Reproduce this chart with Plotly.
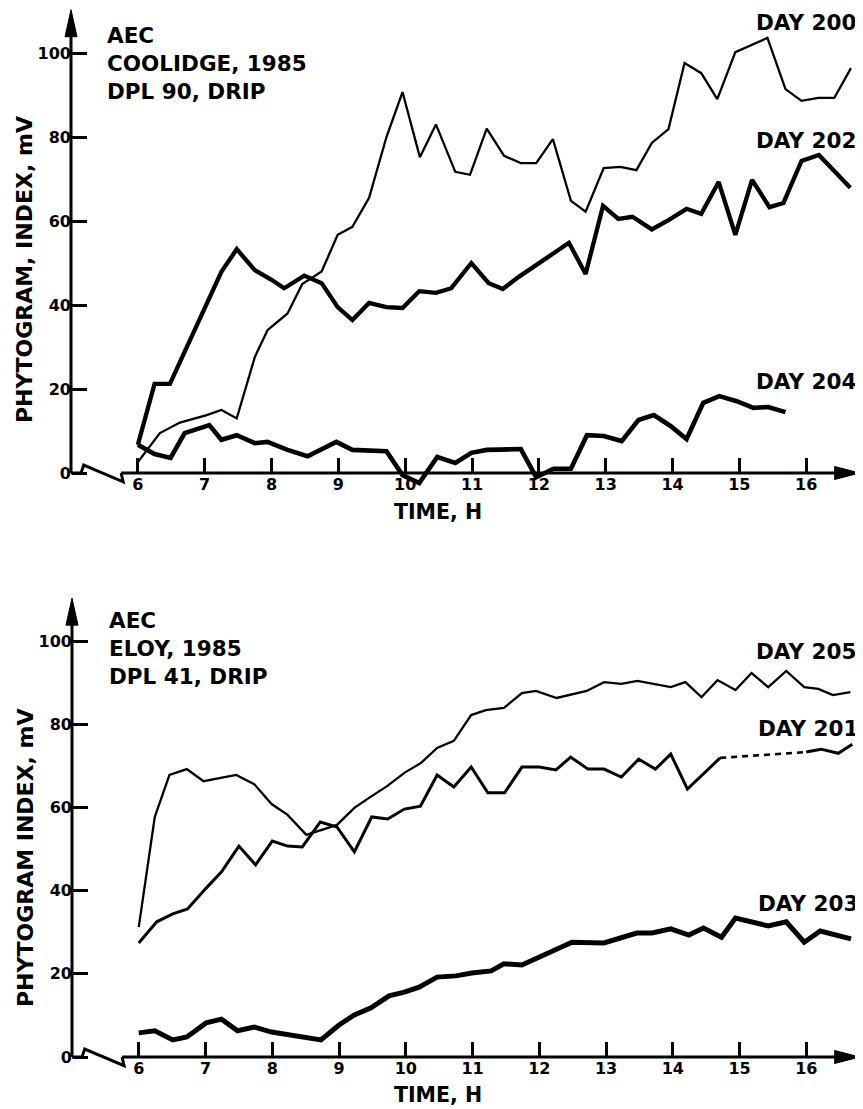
import plotly.graph_objects as go

# ---------------- data ----------------
hour_ticks = [6, 7, 8, 9, 10, 11, 12, 13, 14, 15, 16]
index_ticks = [0, 20, 40, 60, 80, 100]

# Top panel: AEC Coolidge 1985, DPL 90, drip
d200_t = [6.0, 6.33, 6.63, 7.03, 7.25, 7.48, 7.75, 7.94, 8.24, 8.46, 8.75, 8.99, 9.21, 9.46, 9.72,
          9.96, 10.22, 10.46, 10.75, 10.97, 11.22, 11.48, 11.73, 11.96, 12.21, 12.48, 12.70, 12.97,
          13.22, 13.46, 13.69, 13.94, 14.18, 14.43, 14.67, 14.94, 15.42, 15.69, 15.93, 16.18, 16.42, 16.67]
d200_v = [2.6, 9.5, 12.0, 13.8, 15.0, 13.0, 27.6, 34.0, 38.0, 45.0, 48.0, 56.7, 58.6, 65.5, 80.0,
          90.7, 75.2, 83.0, 71.7, 71.0, 82.0, 75.5, 73.8, 73.8, 79.5, 64.8, 62.2, 72.6,
          72.9, 72.1, 78.6, 81.9, 97.6, 95.2, 89.0, 100.2, 103.6, 91.4, 88.6, 89.3, 89.3, 96.4]

d202_t = [6.0, 6.25, 6.48, 7.25, 7.48, 7.75, 8.0, 8.19, 8.49, 8.75, 8.99, 9.21, 9.46, 9.72, 9.96,
          10.21, 10.46, 10.69, 10.99, 11.25, 11.46, 11.70, 12.45, 12.70, 12.96, 13.19, 13.40, 13.69,
          13.94, 14.21, 14.43, 14.69, 14.94, 15.19, 15.45, 15.66, 15.93, 16.19, 16.66]
d202_v = [6.7, 21.2, 21.2, 47.9, 53.3, 48.3, 46.0, 44.0, 47.0, 45.2, 39.5, 36.4, 40.5, 39.5, 39.3,
          43.3, 42.9, 44.0, 50.0, 45.2, 43.8, 46.7, 54.8, 47.4, 63.6, 60.5, 61.0, 58.0,
          60.2, 62.9, 61.7, 69.3, 56.7, 69.8, 63.3, 64.3, 74.3, 75.7, 67.9]

d204_t = [6.0, 6.25, 6.49, 6.70, 7.07, 7.25, 7.48, 7.75, 7.94, 8.24, 8.54, 8.97, 9.21, 9.72, 9.96,
          10.21, 10.48, 10.75, 10.99, 11.22, 11.73, 11.96, 12.22, 12.48, 12.72, 12.97, 13.24, 13.49,
          13.72, 13.97, 14.21, 14.46, 14.70, 14.96, 15.21, 15.43, 15.69]
d204_v = [6.7, 4.5, 3.6, 9.5, 11.4, 7.9, 9.0, 7.1, 7.4, 5.5, 4.0, 7.4, 5.5, 5.2, -0.5,
          -2.4, 3.8, 2.4, 4.8, 5.5, 5.7, -1.0, 1.0, 1.0, 9.0, 8.8, 7.6, 12.6,
          13.8, 11.2, 8.1, 16.7, 18.3, 17.1, 15.5, 15.7, 14.5]

# Bottom panel: AEC Eloy 1985, DPL 41, drip
d205_t = [6.0, 6.24, 6.46, 6.72, 6.97, 7.46, 7.73, 7.99, 8.23, 8.51, 8.97, 9.23, 9.45, 9.72, 9.98,
          10.23, 10.47, 10.72, 10.98, 11.20, 11.47, 11.74, 11.95, 12.26, 12.71, 12.97, 13.23, 13.47,
          13.97, 14.19, 14.43, 14.67, 14.94, 15.18, 15.43, 15.70, 15.97, 16.18, 16.40, 16.66]
d205_v = [31.2, 57.7, 67.8, 69.2, 66.3, 67.8, 65.6, 60.8, 58.2, 53.4, 55.8, 59.9, 62.3, 65.1, 68.3,
          70.7, 74.3, 76.0, 82.2, 83.4, 83.9, 87.5, 88.0, 86.3, 88.0, 90.1, 89.7, 90.4,
          88.9, 90.1, 86.5, 90.6, 88.2, 92.3, 88.9, 92.8, 88.9, 88.5, 87.0, 87.7]

d201_t = [6.0, 6.27, 6.51, 6.73, 7.01, 7.24, 7.50, 7.75, 8.0, 8.23, 8.45, 8.72, 8.97, 9.23, 9.49,
          9.73, 9.98, 10.22, 10.47, 10.72, 10.98, 11.23, 11.48, 11.74, 12.0, 12.25, 12.47, 12.73,
          12.97, 13.23, 13.49, 13.74, 13.97, 14.22, 14.71, 16.0, 16.22, 16.48, 16.69]
d201_v = [27.4, 32.5, 34.4, 35.6, 40.6, 44.5, 50.7, 46.2, 51.9, 50.7, 50.5, 56.5, 55.3, 49.3, 57.7,
          57.2, 59.6, 60.3, 67.8, 64.9, 69.7, 63.5, 63.5, 69.7, 69.7, 69.0, 72.1, 69.2,
          69.2, 67.3, 71.6, 69.2, 72.8, 64.4, 71.9, 73.3, 74.0, 73.0, 75.2]
d201_missing_from = 14.71   # dashed (no data) between these hours
d201_missing_to = 16.0

d203_t = [6.0, 6.24, 6.51, 6.72, 7.01, 7.24, 7.48, 7.73, 7.99, 8.73, 9.0, 9.23, 9.48, 9.75, 9.98,
          10.20, 10.47, 10.75, 10.99, 11.28, 11.47, 11.74, 12.49, 12.97, 13.46, 13.69, 13.97, 14.24,
          14.46, 14.73, 14.94, 15.43, 15.70, 15.97, 16.21, 16.67]
d203_v = [5.8, 6.3, 4.1, 4.8, 8.2, 9.1, 6.3, 7.2, 6.0, 4.1, 7.7, 10.1, 11.8, 14.7, 15.6,
          16.8, 19.2, 19.5, 20.2, 20.7, 22.4, 22.1, 27.6, 27.4, 29.8, 29.8, 30.8, 29.3,
          31.0, 28.8, 33.4, 31.5, 32.5, 27.6, 30.3, 28.4]

# ---------------- layout helpers ----------------
OFF = 8                      # page body margin of the browser
W, H = 863 - OFF, 1109 - OFF
FONT = "DejaVu Sans"
WEIGHT = "bold"


def px(x):
    """screen pixel x -> paper fraction"""
    return (x - OFF) / W


def py(y):
    """screen pixel y -> paper fraction"""
    return 1 - (y - OFF) / H


def clamp(v):
    return max(0.0, min(1.0, v))


fig = go.Figure()


def line(x, y, width, xa, ya, dash="solid"):
    fig.add_trace(go.Scatter(x=x, y=y, mode="lines", xaxis=xa, yaxis=ya,
                             line=dict(color="black", width=width, dash=dash),
                             showlegend=False, hoverinfo="skip"))


# top panel
line(d200_t, d200_v, 2.3, "x", "y")
line(d202_t, d202_v, 4.3, "x", "y")
line(d204_t, d204_v, 4.6, "x", "y")

# bottom panel
line(d205_t, d205_v, 2.3, "x2", "y2")
i0 = d201_t.index(d201_missing_from)
i1 = d201_t.index(d201_missing_to)
line(d201_t[:i0 + 1], d201_v[:i0 + 1], 3.0, "x2", "y2")
line(d201_t[i0:i1 + 1], d201_v[i0:i1 + 1], 2.6, "x2", "y2", dash="6px,5px")
line(d201_t[i1:], d201_v[i1:], 3.0, "x2", "y2")
line(d203_t, d203_v, 5.0, "x2", "y2")

X_AXIS_AT = 5.0          # hour value where the vertical axis stands
XR = [4.85, 16.85]
YR = [-5, 110.6]
X_TIP, Y_TIP = 16.8, 110.3
RIGHT_PX = 863

tick_font = dict(family=FONT, size=16, color="black", weight=WEIGHT)

shapes = []
annos = []


def panel(xname, yname, axis_px, zero_py, ppy):
    ppx = (RIGHT_PX - axis_px) / (XR[1] - X_AXIS_AT)
    left_px = axis_px - (X_AXIS_AT - XR[0]) * ppx
    xa = dict(domain=[clamp(px(left_px)), 1.0], range=XR, anchor="free", position=py(zero_py),
              tickmode="array", tickvals=hour_ticks, ticktext=[str(v) for v in hour_ticks],
              ticks="inside", ticklen=15, tickwidth=2.5, tickcolor="black",
              showline=False, showgrid=False, zeroline=False, tickfont=tick_font,
              fixedrange=True)
    bottom = zero_py - YR[0] * ppy
    top = zero_py - YR[1] * ppy
    ya = dict(domain=[clamp(py(bottom)), clamp(py(top))], range=YR, anchor="free",
              position=px(axis_px),
              tickmode="array", tickvals=index_ticks, ticktext=[str(v) for v in index_ticks],
              ticks="inside", ticklen=15, tickwidth=2.5, tickcolor="black",
              showline=False, showgrid=False, zeroline=False, tickfont=tick_font,
              fixedrange=True)
    xr = xname.replace("axis", "")
    yr = yname.replace("axis", "")
    blk = dict(color="black", width=3)
    # broken start of the time axis
    shapes.append(dict(type="path", xref=xr, yref=yr,
                       path=f"M {X_AXIS_AT},0 L 5.15,0 L 5.19,1.9 L 5.78,-2.1 L 5.75,0",
                       line=blk))
    # time axis + arrowhead
    L, hw = 25, 6.5
    shapes.append(dict(type="line", xref=xr, yref=yr, x0=5.75, y0=0,
                       x1=X_TIP - 0.5 * L / ppx, y1=0, line=blk))
    shapes.append(dict(type="path", xref=xr, yref=yr,
                       path=f"M {X_TIP - L / ppx},{-hw / ppy} L {X_TIP},0 "
                            f"L {X_TIP - L / ppx},{hw / ppy} Z",
                       fillcolor="black", line=dict(color="black", width=1)))
    # index axis + arrowhead
    L, hw = 27, 6
    shapes.append(dict(type="line", xref=xr, yref=yr, x0=X_AXIS_AT, y0=0,
                       x1=X_AXIS_AT, y1=Y_TIP - 0.5 * L / ppy, line=blk))
    shapes.append(dict(type="path", xref=xr, yref=yr,
                       path=f"M {X_AXIS_AT - hw / ppx},{Y_TIP - L / ppy} L {X_AXIS_AT},{Y_TIP} "
                            f"L {X_AXIS_AT + hw / ppx},{Y_TIP - L / ppy} Z",
                       fillcolor="black", line=dict(color="black", width=1)))
    return {xname: xa, yname: ya}


TOP0, BOT0 = 473, 1057
layout_axes = {}
layout_axes.update(panel("xaxis", "yaxis", 71, TOP0, 4.2))
layout_axes.update(panel("xaxis2", "yaxis2", 72, BOT0, 4.16))

fig.update_layout(
    width=W, height=H, margin=dict(l=0, r=0, t=0, b=0),
    paper_bgcolor="white", plot_bgcolor="white",
    font=dict(family=FONT, color="black"),
    **layout_axes,
)


def text(s, x, y, size, xanchor="center", yanchor="middle", align="left", angle=0):
    annos.append(dict(text=s, x=px(x), y=py(y), xref="paper", yref="paper", showarrow=False,
                      xanchor=xanchor, yanchor=yanchor, align=align, textangle=angle,
                      font=dict(family=FONT, size=size, color="black", weight=WEIGHT)))


# header blocks
text("AEC<br>COOLIDGE, 1985<br>DPL 90, DRIP", 105, 21, 21.5, xanchor="left", yanchor="top")
text("AEC<br>ELOY, 1985<br>DPL 41, DRIP", 107, 606, 21.5, xanchor="left", yanchor="top")

# series labels
text("DAY 200", 858, 8.5, 21.5, xanchor="right", yanchor="top")
text("DAY 202", 858, 140, 21.5, xanchor="right")
text("DAY 204", 858, 381.5, 21.5, xanchor="right")
text("DAY 205", 858, 651.5, 21.5, xanchor="right")
text("DAY 201", 860, 728.5, 21.5, xanchor="right")
text("DAY 203", 860, 903.5, 21.5, xanchor="right")

# axis titles
text("PHYTOGRAM, INDEX, mV", 25, 270, 22, angle=-90)
text("PHYTOGRAM INDEX, mV", 25, 858, 22, angle=-90)
text("TIME, H", 438, 512, 20.5)
text("TIME, H", 438, 1095, 20.5)

fig.update_layout(shapes=shapes, annotations=annos)
fig.write_html("out.html")
